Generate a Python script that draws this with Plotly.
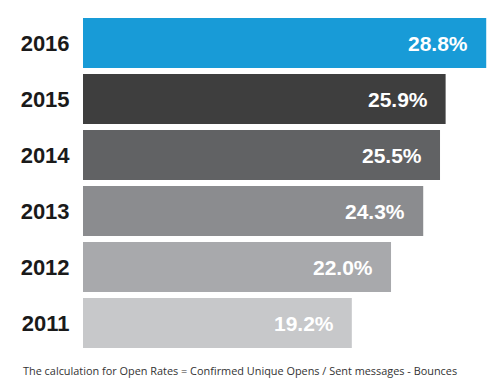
import plotly.graph_objects as go

years = ["2016", "2015", "2014", "2013", "2012", "2011"]
open_rates = [28.8, 25.9, 25.5, 24.3, 22.0, 19.2]
value_labels = ["28.8%", "25.9%", "25.5%", "24.3%", "22.0%", "19.2%"]
bar_colors = ["#189bd7", "#3e3e3e", "#616264", "#8b8c8f", "#a8a9ac", "#c7c8ca"]
footnote = "The calculation for Open Rates = Confirmed Unique Opens / Sent messages - Bounces"

cat_order = years[::-1]

fig = go.Figure()
fig.add_trace(go.Bar(
    y=years, x=open_rates, orientation="h",
    marker=dict(color=bar_colors, line=dict(width=0)),
    hoverinfo="skip",
))

for yr, v, lab in zip(years, open_rates, value_labels):
    fig.add_annotation(
        x=v, y=cat_order.index(yr), xref="x", yref="y", text=lab, showarrow=False,
        xanchor="right", yanchor="middle", xshift=-16,
        font=dict(family="Liberation Sans, Arial, sans-serif", size=21, color="white", weight="bold"),
    )

fig.add_annotation(
    x=0, y=0, xref="paper", yref="paper", text=footnote, showarrow=False,
    xanchor="left", yanchor="top", xshift=-62, yshift=-10,
    font=dict(family="Open Sans, sans-serif", size=10.9, color="#333333"),
)

fig.update_layout(
    width=500, height=388,
    margin=dict(l=83, r=10, t=15, b=37, autoexpand=False),
    paper_bgcolor="white", plot_bgcolor="white",
    bargap=0.107,
    showlegend=False,
    xaxis=dict(range=[0, 29.07], visible=False),
    yaxis=dict(
        type="category",
        categoryorder="array", categoryarray=cat_order,
        range=[-0.5, 5.5],
        showgrid=False, zeroline=False, showline=False,
        ticks="outside", ticklen=8, tickcolor="white",
        tickfont=dict(family="Liberation Sans, Arial, sans-serif", size=22, color="#1a1a1a", weight="bold"),
    ),
)

fig.write_html("out.html", config={"displayModeBar": False},
               post_script="document.body.style.margin='0';")
